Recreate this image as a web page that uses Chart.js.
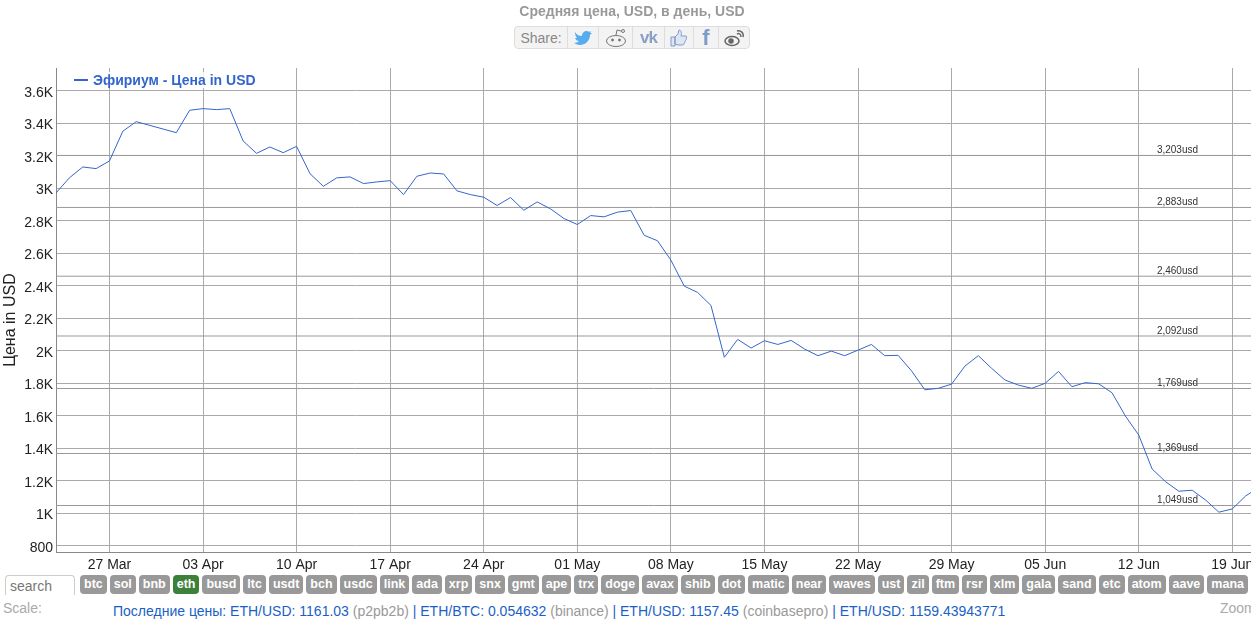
<!DOCTYPE html>
<html lang="ru">
<head>
    <meta charset="UTF-8">
    <title>Средняя цена, USD</title>
    <script src="https://cdn.jsdelivr.net/npm/chart.js"></script>
    <style>
        html, body { margin: 0; padding: 0; background: #fff; overflow: hidden; }
        body { width: 1251px; height: 619px; position: relative; font-family: "Liberation Sans", Arial, sans-serif; }
        #myChart { position: absolute; left: 0; top: 0; }
        #title { position: absolute; left: 0; width: 1264px; top: 3px; text-align: center; font-weight: bold; font-size: 14px; color: #999; }
        #share { position: absolute; left: 514px; top: 26px; width: 234px; height: 21px; display: flex; border: 1px solid #ddd; border-radius: 4px; background: #f3f3f3; }
        #share div { border-right: 1px solid #ddd; display: flex; align-items: center; justify-content: center; box-sizing: border-box; }
        #share div:last-child { border-right: 0; }
        #legend { position: absolute; left: 74px; top: 72px; background: rgba(255,255,255,.85); font-weight: bold; font-size: 14px; color: #3366cc; white-space: nowrap; }
        #legend i { display: inline-block; width: 14px; height: 2px; background: #3366cc; vertical-align: 4px; margin-right: 5px; }
        #search { position: absolute; left: 5px; top: 575px; width: 70px; height: 20px; box-sizing: border-box; border: 1px solid #ccc; border-bottom: 0; border-radius: 4px 4px 0 0; padding-left: 4px; font-size: 14px; line-height: 20px; color: #777; }
        #chips { position: absolute; left: 80px; top: 575px; display: flex; gap: 3px; }
        .chip { background: #999; color: #fff; font-weight: bold; font-size: 12.5px; height: 19px; line-height: 18px; padding: 0 4px; border-radius: 4px; }
        .chip.on { background: #3c8039; }
        #scale { position: absolute; left: 3px; top: 600px; font-size: 14px; color: #aaa; }
        #zoom { position: absolute; left: 1220px; top: 600px; font-size: 14px; color: #aaa; }
        #last { position: absolute; left: 113px; top: 603px; font-size: 14px; color: #1a5fc8; white-space: nowrap; }
        #last span { color: #999; }
    </style>
</head>
<body>
    <canvas id="myChart" width="1251" height="575"></canvas>
    <div id="title">Средняя цена, USD, в день, USD</div>
    <div id="share">
        <div style="width:53px;color:#888;font-size:14px">Share:</div>
        <div style="width:31px">
            <svg width="18" height="15" viewBox="0 0 18 15"><path d="M1 2c2 3 4 4 7 4 0-3 2-5 5-5 1 0 2 1 2 1l2-1-1 2 2 0-2 2c0 6-5 10-10 10-2 0-4-1-6-2 2 0 4-1 5-2-2 0-3-1-4-3h2C2 7 1 5 1 2z" fill="#55acee"/></svg>
        </div>
        <div style="width:34px">
            <svg width="22" height="20" viewBox="0 0 22 20" fill="none" stroke="#777"><ellipse cx="11" cy="13" rx="9.5" ry="5.5"/><path d="M11 7l1-5 4 1"/><circle cx="18" cy="3" r="1.5"/><circle cx="7.5" cy="12" r="1" fill="#777"/><circle cx="14.5" cy="12" r="1" fill="#777"/></svg>
        </div>
        <div style="width:32px;color:#8a9fc4;font-weight:bold;font-size:17px;letter-spacing:-1px">vk</div>
        <div style="width:29px">
            <svg width="18" height="18" viewBox="0 0 18 18" fill="#dfe6f3" stroke="#7f9bcb"><path d="M1 8h4v9H1zM5 8l3-3 1-4c2 0 3 2 2 6h5c1 0 1 2 0 2 1 1 0 2-1 3 0 1 0 2-1 2 0 1 0 2-2 2H8l-3-1z"/></svg>
        </div>
        <div style="width:25px;color:#7f9bcb;font-weight:bold;font-size:22px">f</div>
        <div style="width:30px">
            <svg width="20" height="18" viewBox="0 0 20 18" fill="none" stroke="#666" stroke-width="1.5"><ellipse cx="8" cy="12" rx="7" ry="4.5"/><circle cx="7" cy="12" r="2" fill="#666"/><path d="M13 5c2-1 4 0 4 3M13 2c4-1 7 2 6 6"/></svg>
        </div>
    </div>
    <div id="legend"><i></i>Эфириум - Цена in USD</div>
    <div id="search">search</div>
    <div id="chips"></div>
    <div id="scale">Scale:</div>
    <div id="zoom">Zoom</div>
    <div id="last">Последние цены: ETH/USD: 1161.03 <span>(p2pb2b)</span> | ETH/BTC: 0.054632 <span>(binance)</span> | ETH/USD: 1157.45 <span>(coinbasepro)</span> | ETH/USD: 1159.43943771</div>
    <script>
        // daily price from 23 Mar, null = no point that day
        const prices = [2972, 3065, 3132, 3122, 3169, 3352, 3411, null, null, 3343,
            3481, 3491, 3485, 3491, 3292, 3216, 3255, 3220, 3259, 3091,
            3013, 3065, 3071, 3030, 3040, 3048, 2962, 3075, 3095, 3089,
            2985, 2962, 2946, 2895, 2944, 2866, 2917, 2874, 2815, 2778,
            2833, 2825, 2854, 2864, 2712, 2678, 2559, 2399, 2360, 2280,
            1961, 2071, 2018, 2063, 2040, 2065, 2012, 1971, 1999, 1971,
            2005, 2040, 1971, 1973, 1878, 1761, 1770, 1796, 1907, 1971,
            1893, 1821, 1790, 1770, 1801, 1874, 1780, 1805, 1798, 1743,
            1600, 1483, 1274, 1196, 1137, 1143, 1083, 1008, 1028, 1108, 1161];

        const dateDays = [4, 11, 18, 25, 32, 39, 46, 53, 60, 67, 74, 81, 88];
        const dateLabels = ['27 Mar', '03 Apr', '10 Apr', '17 Apr', '24 Apr', '01 May', '08 May',
            '15 May', '22 May', '29 May', '05 Jun', '12 Jun', '19 Jun'];

        const priceTicks = [800, 1000, 1200, 1400, 1600, 1800, 2000, 2200, 2400, 2600, 2800, 3000, 3200, 3400, 3600];
        const priceLabels = ['800', '1K', '1.2K', '1.4K', '1.6K', '1.8K', '2K', '2.2K', '2.4K', '2.6K', '2.8K', '3K', '3.2K', '3.4K', '3.6K'];

        const levels = [3203, 2883, 2460, 2092, 1769, 1369, 1049];
        const levelLabels = ['3,203usd', '2,883usd', '2,460usd', '2,092usd', '1,769usd', '1,369usd', '1,049usd'];

        const coins = ['btc', 'sol', 'bnb', 'eth', 'busd', 'ltc', 'usdt', 'bch', 'usdc', 'link', 'ada', 'xrp', 'snx', 'gmt', 'ape',
            'trx', 'doge', 'avax', 'shib', 'dot', 'matic', 'near', 'waves', 'ust', 'zil', 'ftm', 'rsr', 'xlm', 'gala', 'sand',
            'etc', 'atom', 'aave', 'mana'];

        const xMin = 0, xMax = 89.4, yMin = 763, yMax = 3741;

        coins.forEach(c => {
            const el = document.createElement('div');
            el.className = c === 'eth' ? 'chip on' : 'chip';
            el.textContent = c;
            document.getElementById('chips').appendChild(el);
        });

        // level captions and the axis title, which sits below the plot's middle
        const levelText = {
            id: 'levelText',
            afterDatasetsDraw(chart) {
                const ctx = chart.ctx, y = chart.scales.y, x = chart.scales.x;
                ctx.save();
                ctx.font = '10px "Liberation Sans"';
                ctx.fillStyle = '#333';
                ctx.textAlign = 'center';
                ctx.textBaseline = 'middle';
                levels.forEach((v, i) => {
                    ctx.fillText(levelLabels[i], x.getPixelForValue(83.9), y.getPixelForValue(v) - 5);
                });
                ctx.translate(11, y.getPixelForValue(2190));
                ctx.rotate(-Math.PI / 2);
                ctx.font = '16px "Liberation Sans"';
                ctx.fillStyle = '#222';
                ctx.fillText('Цена in USD', 0, 0);
                ctx.restore();
            }
        };

        const levelSets = levels.map(v => ({
            data: [{ x: xMin, y: v }, { x: xMax, y: v }],
            borderColor: '#999',
            borderWidth: 1,
            pointRadius: 0,
            order: 2
        }));

        new Chart(document.getElementById('myChart'), {
            type: 'line',
            data: {
                datasets: [{
                    label: 'Эфириум - Цена in USD',
                    data: prices.map((p, i) => ({ x: i, y: p })),
                    borderColor: '#3366cc',
                    borderWidth: 1,
                    pointRadius: 0,
                    spanGaps: true,
                    order: 1
                }].concat(levelSets)
            },
            plugins: [levelText],
            options: {
                responsive: false,
                animation: false,
                devicePixelRatio: 1,
                layout: { padding: { top: 68, right: 0, left: 0, bottom: 0 } },
                plugins: { legend: { display: false }, tooltip: { enabled: false }, title: { display: false } },
                scales: {
                    x: {
                        type: 'linear',
                        min: xMin,
                        max: xMax,
                        afterBuildTicks: s => { s.ticks = dateDays.map(v => ({ value: v })); },
                        afterFit: s => { s.height = 23; s.paddingLeft = 0; s.paddingRight = 0; },
                        grid: { color: '#aaa', drawTicks: false },
                        border: { color: '#888' },
                        ticks: {
                            autoSkip: false,
                            maxRotation: 0,
                            padding: 5,
                            color: '#222',
                            font: { family: '"Liberation Sans"', size: 14 },
                            callback: v => dateLabels[dateDays.indexOf(v)]
                        }
                    },
                    y: {
                        min: yMin,
                        max: yMax,
                        afterBuildTicks: s => { s.ticks = priceTicks.map(v => ({ value: v })); },
                        afterFit: s => { s.width = 56; s.paddingTop = 0; s.paddingBottom = 0; },
                        grid: { color: '#aaa', drawTicks: false },
                        border: { color: '#888' },
                        ticks: {
                            padding: 3,
                            color: '#222',
                            autoSkip: false,
                            labelOffset: 2,
                            font: { family: '"Liberation Sans"', size: 14 },
                            callback: v => priceLabels[priceTicks.indexOf(v)]
                        }
                    }
                }
            }
        });
    </script>
</body>
</html>
